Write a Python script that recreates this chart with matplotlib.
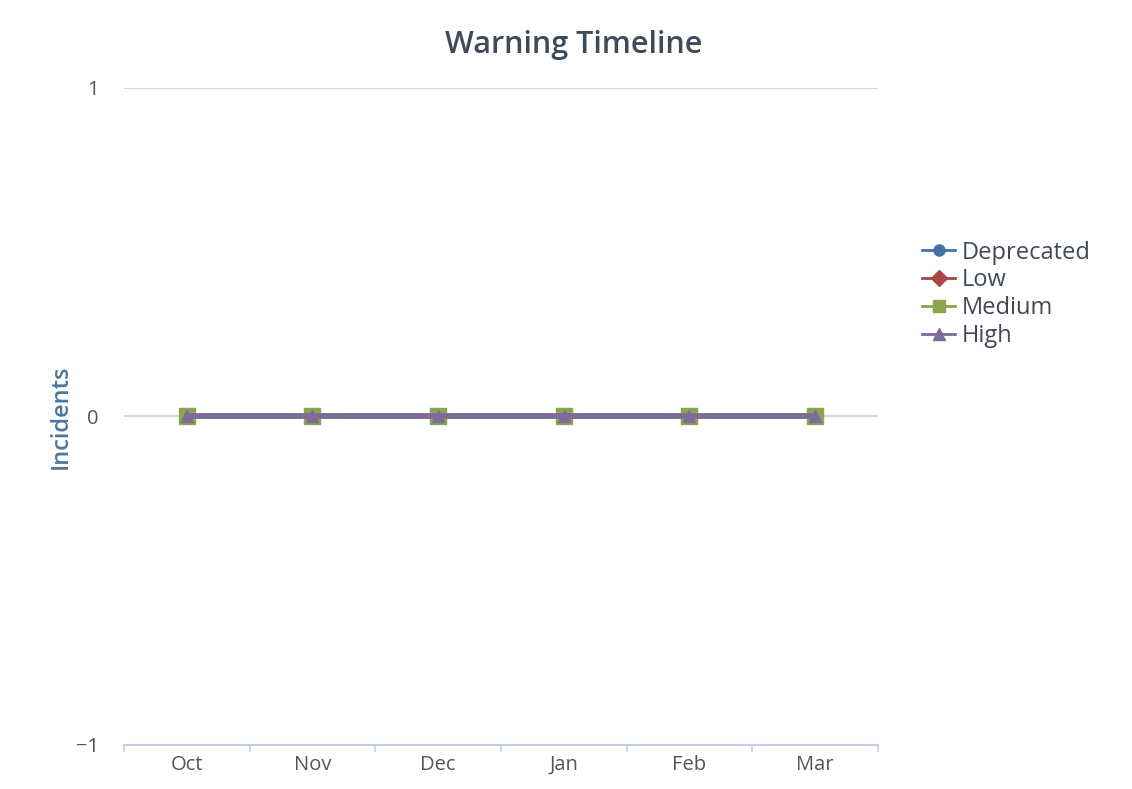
import matplotlib
matplotlib.use("Agg")
import matplotlib.pyplot as plt
from matplotlib.ticker import FixedLocator

plt.rcParams["font.family"] = ["Open Sans", "DejaVu Sans"]

months = ["Oct", "Nov", "Dec", "Jan", "Feb", "Mar"]
deprecated = [0, 0, 0, 0, 0, 0]
low = [0, 0, 0, 0, 0, 0]
medium = [0, 0, 0, 0, 0, 0]
high = [0, 0, 0, 0, 0, 0]

series = [
    ("Deprecated", deprecated, "#4572A7", "o", 10),
    ("Low", low, "#AA4643", "D", 8),
    ("Medium", medium, "#89A54E", "s", 11),
    ("High", high, "#80699B", "^", 9),
]

fig = plt.figure(figsize=(11.32, 7.89), dpi=100)
ax = fig.add_axes([0.1095, 0.0558, 0.666, 0.8327])

x = list(range(len(months)))
for name, vals, color, marker, ms in series:
    ax.plot(x, vals, color=color, marker=marker, markersize=ms,
            linewidth=4, label=name, zorder=3)

ax.set_xlim(-0.5, len(months) - 0.5)
ax.set_ylim(-1, 1)
ax.set_yticks([-1, 0, 1])
ax.set_yticklabels(["\u22121", "0", "1"])
ax.set_xticks(x)
ax.set_xticklabels(months)
ax.xaxis.set_minor_locator(FixedLocator([i + 0.5 for i in range(-1, len(months))]))

for s in ["top", "right", "left"]:
    ax.spines[s].set_visible(False)
ax.spines["bottom"].set_color("#C0D0E0")
ax.spines["bottom"].set_linewidth(1.5)
ax.grid(axis="y", color="#D8D8D8", linewidth=1.5, zorder=0)
ax.set_axisbelow(True)

ax.tick_params(axis="x", which="major", length=0, pad=7, labelsize=14.5, labelcolor="#555555")
ax.tick_params(axis="x", which="minor", length=5, width=1.2, color="#C0D0E0", direction="out")
ax.tick_params(axis="y", length=0, pad=18, labelsize=14.5, labelcolor="#555555")

ax.set_ylabel("Incidents", color="#4D759E", fontsize=17, fontweight="semibold", labelpad=2)

fig.text(0.507, 0.943, "Warning Timeline", ha="center", va="center",
         fontsize=22, fontweight="semibold", color="#3E4A5A")

leg = ax.legend(loc="upper left", bbox_to_anchor=(1.046, 0.782), frameon=False,
                fontsize=17, labelspacing=0.16, handlelength=1.4,
                handletextpad=0.3, borderaxespad=0)
for t in leg.get_texts():
    t.set_color("#3E4A5A")
for h in leg.legend_handles:
    h.set_markersize(8)
    h.set_linewidth(2)

fig.savefig("out.png", dpi=100, facecolor="white")
